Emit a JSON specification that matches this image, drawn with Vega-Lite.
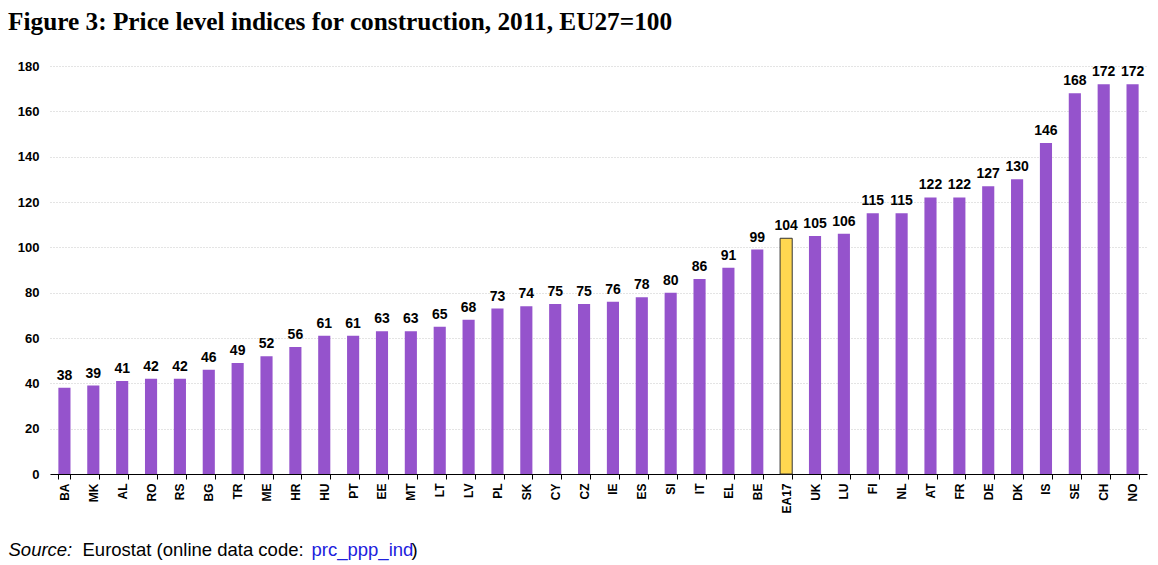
{
  "$schema": "https://vega.github.io/schema/vega-lite/v6.json",
  "width": 1097,
  "height": 408,
  "autosize": {"type": "none"},
  "padding": {"left": 50, "top": 66, "right": 11, "bottom": 91},
  "background": "white",
  "title": {
    "text": "Figure 3: Price level indices for construction, 2011, EU27=100",
    "anchor": "start",
    "frame": "group",
    "dx": -42,
    "offset": 25,
    "font": "Liberation Serif",
    "fontSize": 25.3,
    "fontWeight": "bold",
    "color": "black"
  },
  "config": {
    "view": {"stroke": null},
    "axis": {"labelFont": "Liberation Sans", "titleFont": "Liberation Sans"}
  },
  "data": {
    "values": [
      {"country": "BA", "value": 38},
      {"country": "MK", "value": 39},
      {"country": "AL", "value": 41},
      {"country": "RO", "value": 42},
      {"country": "RS", "value": 42},
      {"country": "BG", "value": 46},
      {"country": "TR", "value": 49},
      {"country": "ME", "value": 52},
      {"country": "HR", "value": 56},
      {"country": "HU", "value": 61},
      {"country": "PT", "value": 61},
      {"country": "EE", "value": 63},
      {"country": "MT", "value": 63},
      {"country": "LT", "value": 65},
      {"country": "LV", "value": 68},
      {"country": "PL", "value": 73},
      {"country": "SK", "value": 74},
      {"country": "CY", "value": 75},
      {"country": "CZ", "value": 75},
      {"country": "IE", "value": 76},
      {"country": "ES", "value": 78},
      {"country": "SI", "value": 80},
      {"country": "IT", "value": 86},
      {"country": "EL", "value": 91},
      {"country": "BE", "value": 99},
      {"country": "EA17", "value": 104},
      {"country": "UK", "value": 105},
      {"country": "LU", "value": 106},
      {"country": "FI", "value": 115},
      {"country": "NL", "value": 115},
      {"country": "AT", "value": 122},
      {"country": "FR", "value": 122},
      {"country": "DE", "value": 127},
      {"country": "DK", "value": 130},
      {"country": "IS", "value": 146},
      {"country": "SE", "value": 168},
      {"country": "CH", "value": 172},
      {"country": "NO", "value": 172}
    ]
  },
  "resolve": {"axis": {"x": "independent", "y": "independent"}},
  "layer": [
    {
      "mark": {"type": "bar"},
      "encoding": {
        "x": {
          "field": "country",
          "type": "nominal",
          "sort": null,
          "scale": {"paddingInner": 0.58, "paddingOuter": 0.29},
          "axis": {
            "orient": "bottom",
            "title": "Eurostat (online data code: ",
            "titleX": 32,
            "titleY": 75,
            "titleAlign": "left",
            "titleBaseline": "middle",
            "titleFontSize": 18.5,
            "titleFontWeight": "normal",
            "titleColor": "black",
            "labelAngle": 270,
            "labelFontSize": 12,
            "labelFontWeight": "bold",
            "labelColor": "black",
            "labelPadding": 4,
            "tickBand": "extent",
            "ticks": true,
            "tickSize": 5,
            "tickColor": "black",
            "domainColor": "black",
            "grid": false
          }
        },
        "y": {
          "field": "value",
          "type": "quantitative",
          "scale": {"domain": [0, 180], "nice": false},
          "axis": {
            "orient": "left",
            "values": [0, 20, 40, 60, 80, 100, 120, 140, 160, 180],
            "title": "Source:",
            "titleAngle": 0,
            "titleX": -42,
            "titleY": 483,
            "titleAlign": "left",
            "titleBaseline": "middle",
            "titleFontSize": 18.5,
            "titleFontStyle": "italic",
            "titleFontWeight": "normal",
            "titleColor": "black",
            "labelFontSize": 13,
            "labelFontWeight": "bold",
            "labelColor": "black",
            "labelPadding": 11,
            "ticks": false,
            "domain": false,
            "grid": true,
            "gridColor": "#c8c8c8",
            "gridDash": [1, 2],
            "gridWidth": 1
          }
        },
        "fill": {
          "condition": {"test": "datum.country === 'EA17'", "value": "#FFD750"},
          "value": "#9553CC"
        },
        "stroke": {
          "condition": {"test": "datum.country === 'EA17'", "value": "#333333"},
          "value": null
        },
        "strokeWidth": {"value": 1}
      }
    },
    {
      "mark": {
        "type": "text",
        "baseline": "alphabetic",
        "dy": -8,
        "font": "Liberation Sans",
        "fontSize": 14,
        "fontWeight": "bold",
        "color": "black"
      },
      "encoding": {
        "x": {
          "field": "country",
          "type": "nominal",
          "sort": null,
          "axis": {
            "orient": "top",
            "title": "prc_ppp_ind",
            "titleX": 261,
            "titleY": 483,
            "titleAlign": "left",
            "titleBaseline": "middle",
            "titleFontSize": 18.5,
            "titleFontWeight": "normal",
            "titleColor": "#2020DD",
            "labels": false,
            "ticks": false,
            "domain": false,
            "grid": false
          }
        },
        "y": {
          "field": "value",
          "type": "quantitative",
          "axis": {
            "orient": "right",
            "title": ")",
            "titleAngle": 0,
            "titleX": -736,
            "titleY": 483,
            "titleAlign": "left",
            "titleBaseline": "middle",
            "titleFontSize": 18.5,
            "titleFontWeight": "normal",
            "titleColor": "black",
            "labels": false,
            "ticks": false,
            "domain": false,
            "grid": false
          }
        },
        "text": {"field": "value", "type": "quantitative"}
      }
    }
  ]
}
